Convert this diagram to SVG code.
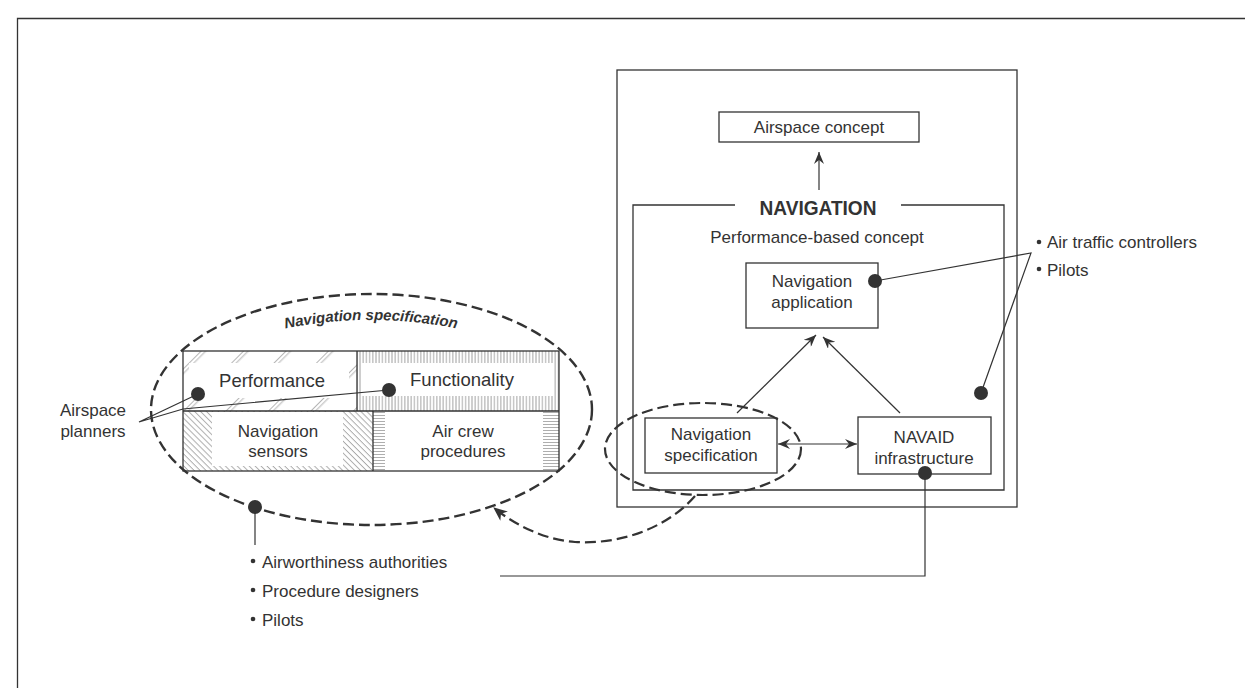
<svg xmlns="http://www.w3.org/2000/svg" width="1245" height="688" viewBox="0 0 1245 688">
<style>
.t{font-family:"Liberation Sans",Arial,sans-serif;font-size:17px;fill:#333}
.m{text-anchor:middle}
.box{fill:#fff;stroke:#333;stroke-width:1.3}
.frame{fill:none;stroke:#333;stroke-width:1.3}
.ln{fill:none;stroke:#333;stroke-width:1.2}
.dash{fill:none;stroke:#333;stroke-width:2.4;stroke-dasharray:11 5}
.dot{fill:#333}
.wh{fill:#fff}
</style>
<defs>
<marker id="arr" viewBox="0 0 12 10" refX="12" refY="5" markerWidth="12" markerHeight="10" markerUnits="userSpaceOnUse" orient="auto-start-reverse">
<path d="M0,0 L12,5 L0,10 L4,5 Z" fill="#333"/>
</marker>
<marker id="arrB" viewBox="0 0 14 12" refX="13" refY="6" markerWidth="14" markerHeight="12" markerUnits="userSpaceOnUse" orient="auto">
<path d="M0,0 L14,6 L0,12 L4,6 Z" fill="#333"/>
</marker>
<pattern id="pPerf" patternUnits="userSpaceOnUse" width="30" height="30" patternTransform="rotate(45)">
<path d="M0.5,0V30M3.8,0V30" stroke="#b5b5b5" stroke-width="1"/>
</pattern>
<pattern id="pFunc" patternUnits="userSpaceOnUse" width="3.2" height="10">
<path d="M1.6,0V10" stroke="#9a9a9a" stroke-width="0.9"/>
</pattern>
<pattern id="pSens" patternUnits="userSpaceOnUse" width="4.2" height="10" patternTransform="rotate(-45)">
<path d="M2,0V10" stroke="#909090" stroke-width="0.8"/>
</pattern>
<pattern id="pCrew" patternUnits="userSpaceOnUse" width="10" height="3">
<path d="M0,1.5H10" stroke="#a5a5a5" stroke-width="0.9"/>
</pattern>
<path id="nsArc" d="M 283 329 Q 371 311 459 329"/>
</defs>

<rect width="1245" height="688" fill="#fff"/>
<path class="frame" d="M17.5,688 V18.5 H1245"/>

<g id="frame-right">
<rect class="frame" x="617" y="70" width="400" height="437"/>
<path class="frame" d="M735,205 H633 V490 H1004 V205 H901"/>
<text class="t m" x="818" y="215" style="font-weight:bold;font-size:21px" textLength="117" lengthAdjust="spacingAndGlyphs">NAVIGATION</text>
<text class="t m" x="817" y="243">Performance-based concept</text>
</g>

<g id="airspace-concept">
<rect class="box" x="719" y="112" width="200" height="30"/>
<text class="t m" x="819" y="133">Airspace concept</text>
</g>

<g id="nav-application">
<rect class="box" x="746" y="263" width="132" height="65"/>
<text class="t m" x="812" y="287">Navigation</text>
<text class="t m" x="812" y="308">application</text>
</g>

<g id="nav-spec">
<rect class="box" x="645" y="418" width="132" height="55"/>
<text class="t m" x="711" y="440">Navigation</text>
<text class="t m" x="711" y="461">specification</text>
</g>

<g id="navaid">
<rect class="box" x="858" y="417" width="133" height="57"/>
<text class="t m" x="924" y="443">NAVAID</text>
<text class="t m" x="924" y="464">infrastructure</text>
</g>

<g id="nav-spec-table">
<rect x="183" y="351" width="174" height="60" fill="url(#pPerf)"/>
<rect class="wh" x="189" y="363" width="160" height="35"/>
<rect x="357" y="351" width="202" height="60" fill="url(#pFunc)"/>
<rect class="wh" x="362" y="363" width="192" height="33"/>
<rect x="183" y="411" width="190" height="60" fill="url(#pSens)"/>
<rect class="wh" x="212" y="412" width="131" height="54"/>
<rect x="373" y="411" width="186" height="60" fill="url(#pCrew)"/>
<rect class="wh" x="385" y="411" width="158" height="60"/>
<rect class="frame" x="183" y="351" width="376" height="120"/>
<path class="frame" d="M183,411H559 M357,351V411 M373,411V471"/>
<text class="t m" x="272" y="387" style="font-size:18.5px">Performance</text>
<text class="t m" x="462" y="386" style="font-size:18.5px">Functionality</text>
<text class="t m" x="278" y="437">Navigation</text>
<text class="t m" x="278" y="457">sensors</text>
<text class="t m" x="463" y="437">Air crew</text>
<text class="t m" x="463" y="457">procedures</text>
</g>

<g id="nav-spec-ellipse">
<ellipse class="dash" cx="371.5" cy="409.5" rx="220.5" ry="115.5"/>
<text class="t" style="font-weight:bold;font-style:italic;font-size:15px"><textPath href="#nsArc" startOffset="50%" text-anchor="middle">Navigation specification</textPath></text>
</g>

<g id="small-ellipse">
<ellipse class="dash" cx="703" cy="449" rx="98" ry="46" style="stroke-width:2.2"/>
</g>

<g id="connectors">
<line class="ln" x1="819" y1="190" x2="819" y2="152" marker-end="url(#arr)"/>
<line class="ln" x1="737" y1="413" x2="816" y2="335" marker-end="url(#arr)"/>
<line class="ln" x1="900" y1="413" x2="823" y2="337" marker-end="url(#arr)"/>
<line class="ln" x1="778" y1="444" x2="857" y2="444" marker-start="url(#arr)" marker-end="url(#arr)"/>
<path class="dash" d="M695,496 C670,525 625,545 575,542 C545,540 515,525 494,508" style="stroke-width:2.2" marker-end="url(#arrB)"/>
<path class="ln" d="M875,281 L1031,253 L981,393"/>
<path class="ln" d="M925,473 V576 H500"/>
<path class="ln" d="M198,394 L139,422 L183,409 L389,390"/>
<path class="ln" d="M255,507 V545"/>
<circle class="dot" cx="875" cy="281" r="7"/>
<circle class="dot" cx="981" cy="393" r="7"/>
<circle class="dot" cx="925" cy="473" r="7"/>
<circle class="dot" cx="198" cy="394" r="7"/>
<circle class="dot" cx="389" cy="390" r="7"/>
<circle class="dot" cx="255" cy="507" r="7"/>
</g>

<g id="label-atc">
<circle class="dot" cx="1039" cy="242" r="2.3"/>
<text class="t" x="1047" y="248">Air traffic controllers</text>
<circle class="dot" cx="1039" cy="269" r="2.3"/>
<text class="t" x="1047" y="276">Pilots</text>
</g>

<g id="label-planners">
<text class="t m" x="93" y="416">Airspace</text>
<text class="t m" x="93" y="437">planners</text>
</g>

<g id="label-authorities">
<circle class="dot" cx="253" cy="561" r="2.3"/>
<text class="t" x="262" y="568">Airworthiness authorities</text>
<circle class="dot" cx="253" cy="590" r="2.3"/>
<text class="t" x="262" y="597">Procedure designers</text>
<circle class="dot" cx="253" cy="619" r="2.3"/>
<text class="t" x="262" y="626">Pilots</text>
</g>
</svg>
